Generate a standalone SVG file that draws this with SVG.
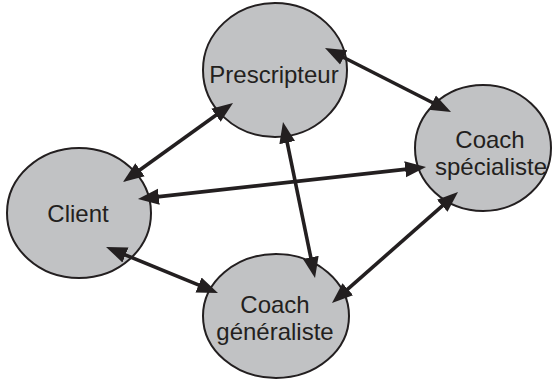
<svg xmlns="http://www.w3.org/2000/svg" width="552" height="381" viewBox="0 0 552 381">
<style>
.node ellipse{fill:#c1c2c4;stroke:#231f20;stroke-width:2}
.node text{font-family:"Liberation Sans",Arial,sans-serif;font-size:24px;fill:#231f20;text-anchor:middle}
.conn line{stroke:#231f20;stroke-width:3.6;marker-start:url(#ah);marker-end:url(#ah)}
</style>
<defs>
<marker id="ah" markerUnits="userSpaceOnUse" markerWidth="24" markerHeight="18" viewBox="0 0 24 18" refX="11" refY="9" orient="auto-start-reverse">
<path d="M0,1 L21,9 L0,17 z" fill="#231f20"/>
</marker>
</defs>
<rect width="552" height="381" fill="#fff"/>
<g id="prescripteur" class="node">
<ellipse cx="275" cy="70" rx="72" ry="67"/>
<text x="274" y="83">Prescripteur</text>
</g>
<g id="client" class="node">
<ellipse cx="79" cy="213" rx="72" ry="65"/>
<text x="78" y="222">Client</text>
</g>
<g id="coach-specialiste" class="node">
<ellipse cx="483" cy="148" rx="68" ry="63"/>
<text x="490" y="148">Coach</text>
<text x="491" y="175">spécialiste</text>
</g>
<g id="coach-generaliste" class="node">
<ellipse cx="276" cy="316" rx="73" ry="62"/>
<text x="275" y="313">Coach</text>
<text x="275" y="340">généraliste</text>
</g>
<g id="connectors" class="conn">
<line x1="224.9" y1="108.8" x2="131.1" y2="176.2"/>
<line x1="147.9" y1="197.9" x2="416.1" y2="168.1"/>
<line x1="115.3" y1="250.8" x2="208.7" y2="289.2"/>
<line x1="285.0" y1="131.8" x2="313.0" y2="268.2"/>
<line x1="333.9" y1="52.5" x2="442.1" y2="107.5"/>
<line x1="339.5" y1="296.4" x2="450.5" y2="198.6"/>
</g>
</svg>
